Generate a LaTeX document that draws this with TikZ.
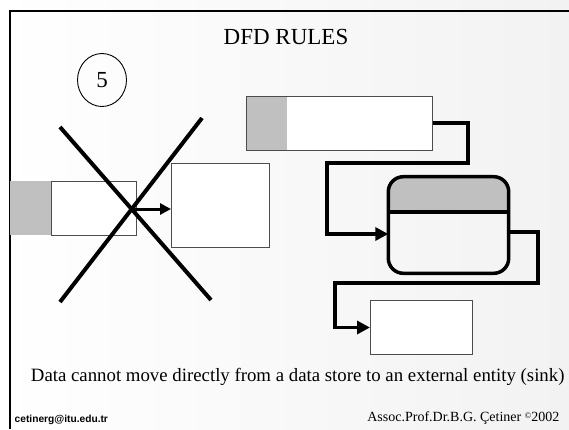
\documentclass[tikz,border=0pt]{standalone}
\usepackage{fontspec}
\setmainfont{Liberation Serif}
\newfontfamily\arialfont{Liberation Sans}
\usetikzlibrary{arrows.meta,calc,shapes.geometric}
\definecolor{storegray}{HTML}{C0C0C0}
\definecolor{bgright}{HTML}{F2F2F2}
\tikzset{
  boxw/.style={draw=black!70, line width=0.9pt, fill=white, rectangle, inner sep=0pt, outer sep=0pt},
  graypart/.style={fill=storegray, rectangle, inner sep=0pt, outer sep=0pt},
  flow/.style={line width=3.8pt, line join=miter, -{Triangle[length=13pt,width=13pt]}},
  shortflow/.style={line width=3pt, -{Triangle[length=11pt,width=11pt]}},
  cross/.style={line width=4pt},
  frameline/.style={line width=2pt}
}
\begin{document}
\begin{tikzpicture}[x=1pt,y=-1pt]
\useasboundingbox (0,0) rectangle (569,429);
% background
\shade[left color=white, right color=bgright] (0,0) rectangle (569,429);
% frame
\draw[frameline] (10,429) -- (10,11) -- (569,11);
% title
\node[font=\fontsize{23}{26}\selectfont] (title) at (286,37) {DFD RULES};
% rule number
\node[draw=black, line width=0.9pt, ellipse, minimum width=49pt, minimum height=53pt, inner sep=0pt] (num) at (102,80) {};
\node[font=\fontsize{23}{26}\selectfont] (numtxt) at (num.center) {5};
% left data store
\node[graypart, minimum width=41.5pt, minimum height=54pt] (lsg) at (30.75,208) {};
\node[boxw, minimum width=84.5pt, minimum height=54pt] (ls) at (93.75,208) {};
% left process/entity box
\node[boxw, minimum width=98pt, minimum height=84pt] (lp) at (220,205) {};
% arrow
\draw[shortflow] ($(ls.east)+(-4,1)$) -- ($(ls.east -| lp.west)+(0,1)$);
% the cross
\draw[cross] (60,127) -- (211,300);
\draw[cross] (202,118) -- (60,302);
% top-right data store
\node[boxw, minimum width=186pt, minimum height=54pt,
  path picture={\fill[storegray] (path picture bounding box.north west) rectangle ($(path picture bounding box.south west)+(40,0)$);}] (ts) at (339.7,123) {};
\draw[boxw, fill=none] (ts.north west) rectangle (ts.south east);
% rounded process
\node[rectangle, minimum width=120.4pt, minimum height=96.6pt, inner sep=0pt, outer sep=0pt] (rp) at (448.5,225) {};
\begin{scope}
\clip[rounded corners=15pt] (rp.north west) rectangle (rp.south east);
\fill[storegray] (rp.north west) rectangle ($(rp.north east)+(0,35.3)$);
\end{scope}
\draw[line width=3.5pt] ($(rp.north west)+(0,35.3)$) -- ($(rp.north east)+(0,35.3)$);
\draw[line width=3.5pt, rounded corners=15pt] (rp.north west) rectangle (rp.south east);
% bottom external entity
\node[boxw, minimum width=102.7pt, minimum height=53.3pt] (bb) at (421.35,327.35) {};
% connectors
\coordinate (c1a) at (468.3,123);
\draw[flow] (ts.east) -- (c1a) -- (468.3,162.7) -- (326.7,162.7) -- (326.7,234) -- (rp.west |- 0,234);
\draw[flow] (rp.east |- 0,231.7) -- (537.7,231.7) -- (537.7,283.3) -- (335.3,283.3) -- (335.3,327.5) -- (bb.west |- 0,327.5);
% caption
\node[font=\fontsize{18.8}{22}\selectfont, anchor=east] (caption) at (568,376.5) {Data cannot move directly from a data store to an external entity (sink)};
% footer
\node[font=\arialfont\bfseries\fontsize{10.2}{12}\selectfont, anchor=west, inner sep=0pt] (email) at (14.5,420) {cetinerg@itu.edu.tr};
\node[font=\fontsize{14}{16}\selectfont, anchor=east, inner sep=0pt] (author) at (559.5,418) {Assoc.Prof.Dr.B.G. Çetiner \raisebox{0.45ex}{\fontsize{8.5}{10}\selectfont ©}2002};
\end{tikzpicture}
\end{document}
